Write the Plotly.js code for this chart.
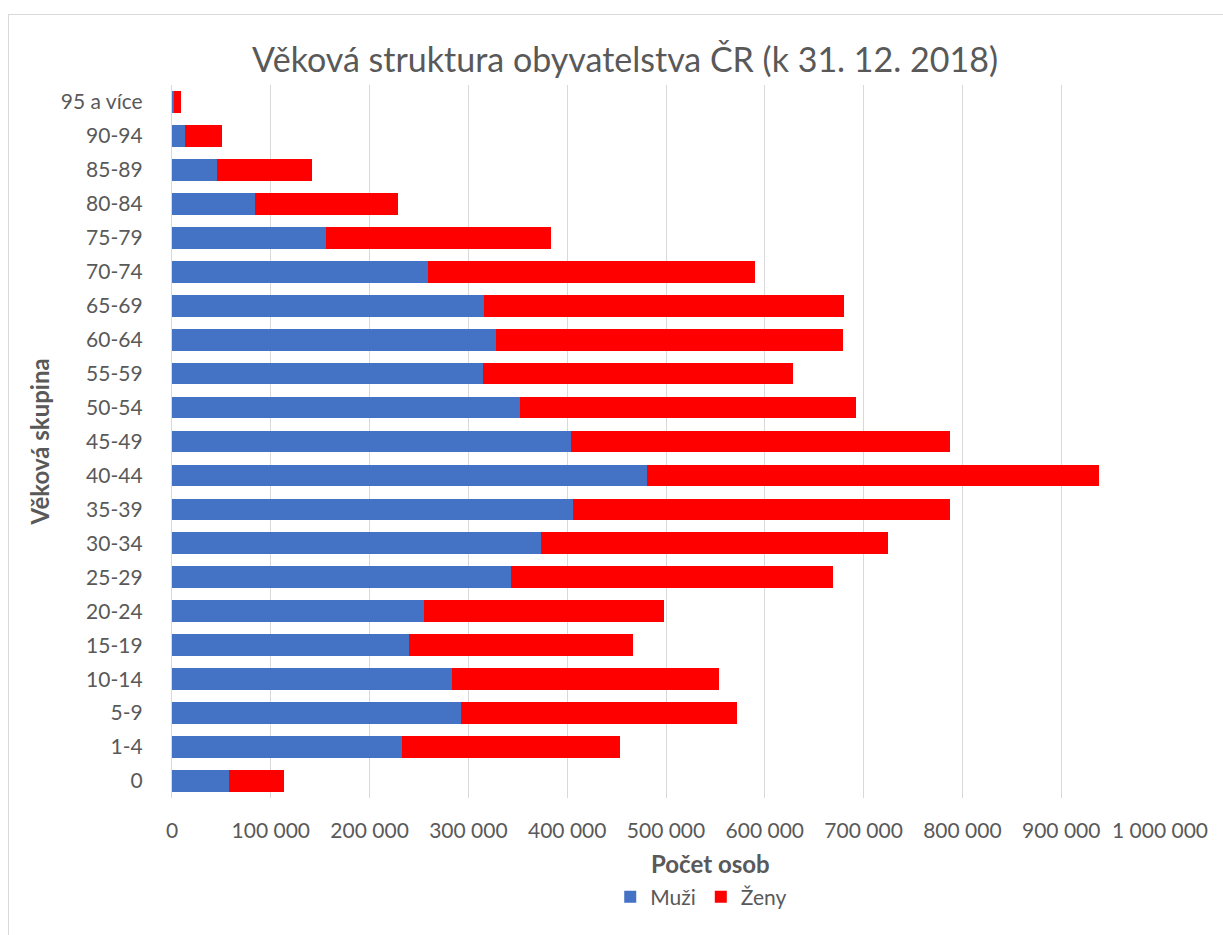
<!DOCTYPE html>
<html>
<head>
<meta charset="utf-8">
<script src="https://cdn.plot.ly/plotly-3.0.1.min.js"></script>
<style>
  html, body { margin: 0; padding: 0; background: #ffffff; }
  #frame { position: absolute; left: 8px; top: 14px; width: 1240px; height: 960px; border: 1.5px solid #d9d9d9; box-sizing: border-box; }
  #chart { position: absolute; left: 0; top: 0; width: 1223px; height: 935px; }
</style>
</head>
<body>
<div id="frame"></div>
<div id="chart"></div>
<script>
const categories = ['0','1-4','5-9','10-14','15-19','20-24','25-29','30-34','35-39','40-44','45-49','50-54','55-59','60-64','65-69','70-74','75-79','80-84','85-89','90-94','95 a více'];
const muzi = [57500, 232300, 292700, 283900, 240000, 255000, 343100, 373700, 406000, 480700, 404200, 352300, 314600, 328100, 315300, 259000, 156000, 83500, 45400, 13000, 1600];
const zeny = [55700, 220700, 279500, 269900, 227100, 242700, 325900, 351100, 381200, 457200, 383000, 339500, 313700, 350900, 364400, 330600, 227800, 145500, 96000, 37800, 8000];
const seriesNames = ['Muži', 'Ženy'];
const xTickVals = [0, 100000, 200000, 300000, 400000, 500000, 600000, 700000, 800000, 900000, 1000000];
const xTitle = 'Počet osob';
const yTitle = 'Věková skupina';

const font = 'Lato, "Open Sans", sans-serif';
const grey = '#595959';

const traces = [
  { type: 'bar', orientation: 'h', name: seriesNames[0], y: categories, x: muzi,
    marker: { color: '#4472C4' }, hoverinfo: 'x+y+name' },
  { type: 'bar', orientation: 'h', name: seriesNames[1], y: categories, x: zeny,
    marker: { color: '#FF0000' }, hoverinfo: 'x+y+name' }
];

const L = 171.5, R = 63, T = 85, B = 137;
const plotW = 1223 - L - R, plotH = 935 - T - B;

const layout = {
  width: 1223, height: 935,
  paper_bgcolor: 'rgba(0,0,0,0)', plot_bgcolor: 'rgba(0,0,0,0)',
  barmode: 'stack', bargap: 0.36,
  separators: ', ',
  margin: { l: L, r: R, t: T, b: B },
  font: { family: font, color: grey, size: 21 },
  title: { text: 'Věková struktura obyvatelstva ČR (k 31. 12. 2018)',
    font: { family: font, size: 34, color: grey },
    x: 0.511, xanchor: 'center', y: 0.936, yanchor: 'middle' },
  xaxis: {
    range: [0, 1000000], tickvals: xTickVals, tickformat: ',d',
    showgrid: true, gridcolor: '#d9d9d9', gridwidth: 1.3, zeroline: false,
    ticks: 'outside', ticklen: 14, tickcolor: 'rgba(0,0,0,0)',
    tickfont: { family: font, size: 21, color: grey },
    fixedrange: true
  },
  yaxis: {
    type: 'category', categoryorder: 'array', categoryarray: categories,
    showline: true, linecolor: '#d9d9d9', linewidth: 1.3,
    showgrid: false, zeroline: false,
    ticks: 'outside', ticklen: 24, tickcolor: 'rgba(0,0,0,0)',
    tickfont: { family: font, size: 21, color: grey },
    automargin: false,
    fixedrange: true
  },
  annotations: [
    { text: '<b>' + xTitle + '</b>', xref: 'paper', yref: 'paper',
      x: (710 - L) / plotW, y: (935 - B - 863) / plotH, xanchor: 'center', yanchor: 'middle',
      showarrow: false, font: { family: font, size: 24, color: grey } },
    { text: '<b>' + yTitle + '</b>', xref: 'paper', yref: 'paper', textangle: -90,
      x: (38 - L) / plotW, y: (935 - B - 442) / plotH, xanchor: 'center', yanchor: 'middle',
      showarrow: false, font: { family: font, size: 24, color: grey } }
  ],
  legend: {
    orientation: 'h', x: (701 - L) / plotW, xanchor: 'center', y: (935 - B - 897) / plotH, yanchor: 'middle',
    font: { family: font, size: 21, color: grey }, itemwidth: 30, traceorder: 'normal'
  },
  showlegend: true
};

Plotly.newPlot('chart', traces, layout, { displayModeBar: false });
</script>
</body>
</html>
